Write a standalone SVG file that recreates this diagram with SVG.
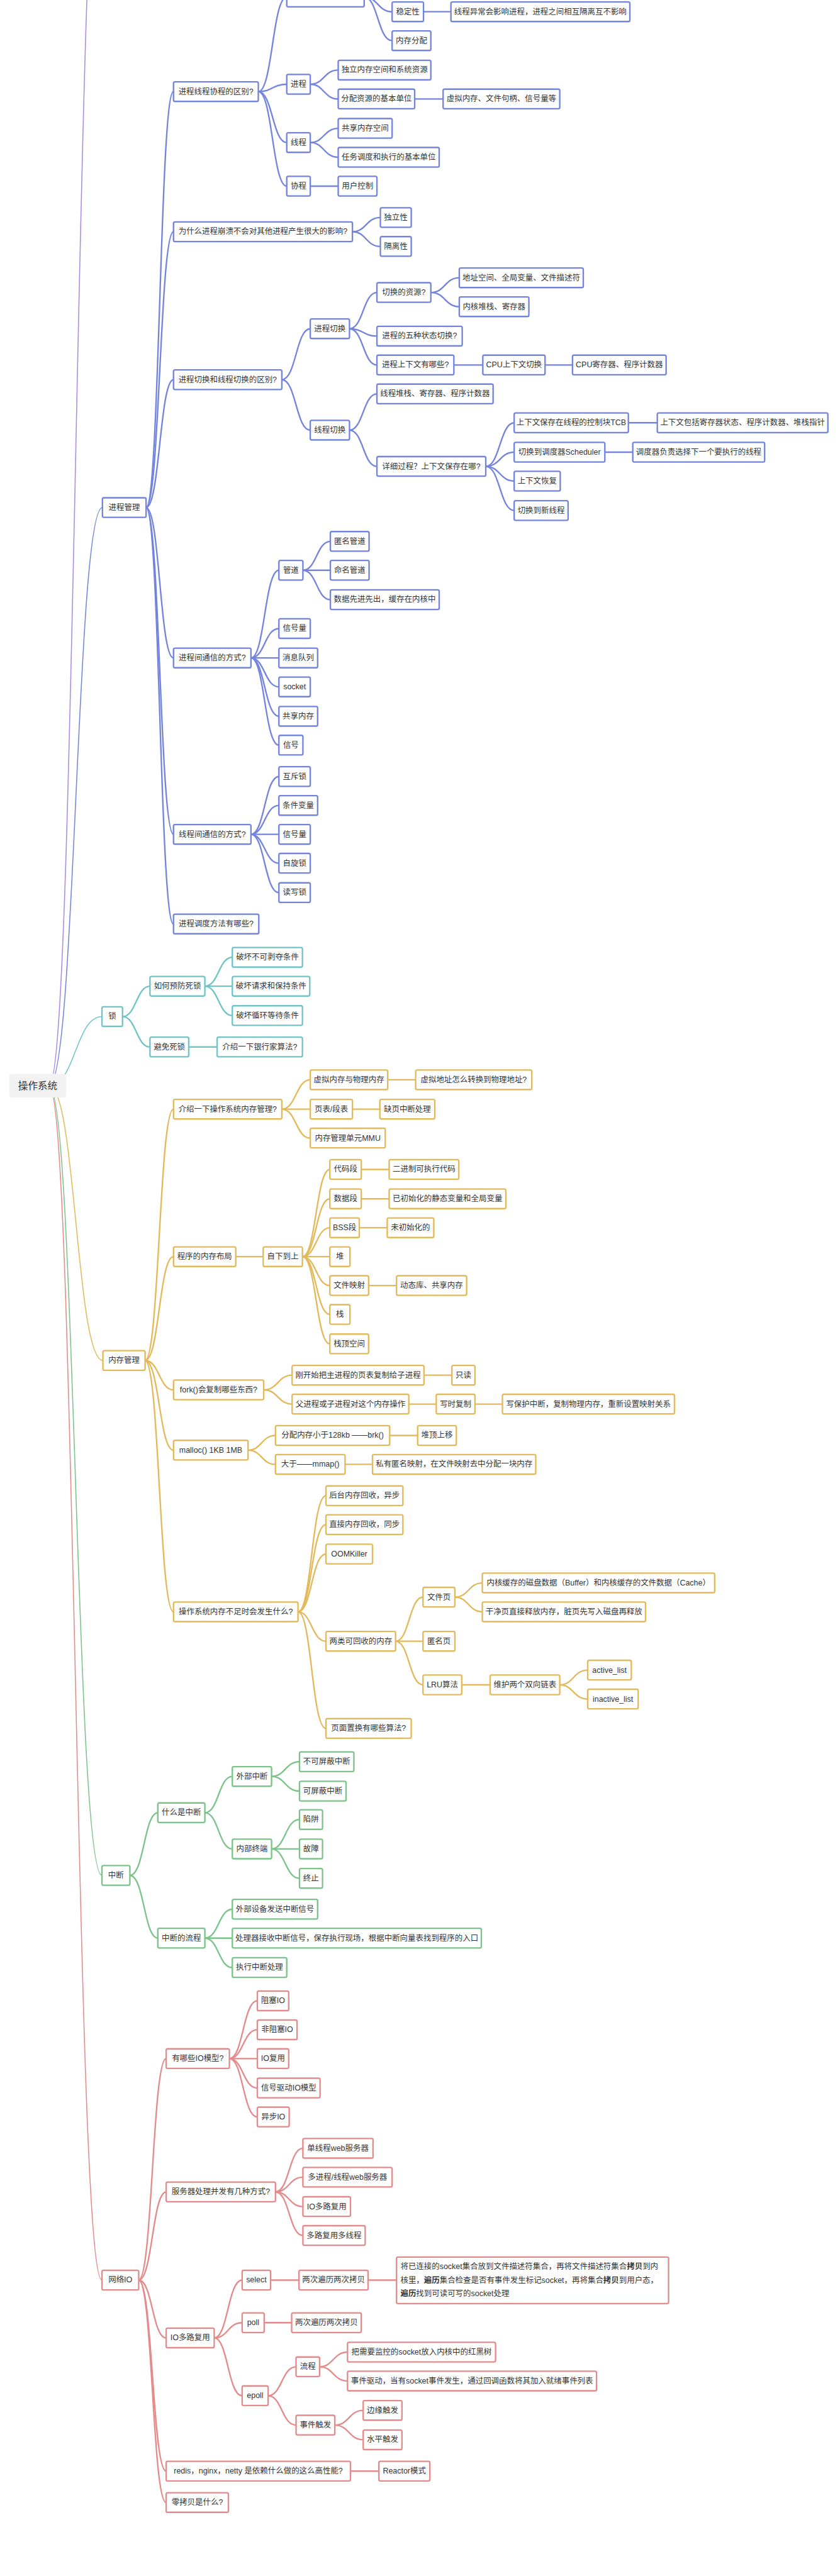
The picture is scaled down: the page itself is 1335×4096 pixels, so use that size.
<svg xmlns="http://www.w3.org/2000/svg" width="1335" height="4096" viewBox="0 0 1335 4096">
<style>
.lk path{fill:none;stroke-width:3;stroke-linecap:round}
.rt path{fill:none;stroke-width:2}
.n rect{fill:#fff;stroke-width:3}
.n text,.root text{font-family:"Liberation Sans","Noto Sans CJK SC",sans-serif;font-size:16px;fill:#333;stroke:none}
.n text{text-anchor:middle;dominant-baseline:central}
.n.desc text{text-anchor:start}
.B{stroke:#7384dd}.T{stroke:#70c4c6}.O{stroke:#e2b95b}.G{stroke:#7cc38a}.R{stroke:#e58a8a}.P{stroke:#a98ce0}
.bold{font-weight:bold}
</style>
<rect width="1335" height="4096" fill="#fff"/>
<g transform="scale(0.779)">
<g id="connectors">
<g class="rt">
<path class="P" d="M100 2216C155 2216 155 -400 209 -400"/>
<path class="B" d="M100 2216C155 2216 155 1036 209 1036"/>
<path class="T" d="M100 2216C154 2216 154 2075 208 2075"/>
<path class="O" d="M100 2216C155 2216 155 2777 210 2777"/>
<path class="G" d="M100 2216C154 2216 154 3828 208 3828"/>
<path class="R" d="M100 2216C154 2216 154 4654 208 4654"/>
</g>
<g class="lk B">
<path d="M298 1036C326 1036 326 187 354 187"/>
<path d="M298 1036C326 1036 326 473 354 473"/>
<path d="M298 1036C326 1036 326 775 354 775"/>
<path d="M298 1036C326 1036 326 1343 354 1343"/>
<path d="M298 1036C326 1036 326 1703 354 1703"/>
<path d="M298 1036C326 1036 326 1886 354 1886"/>
<path d="M527 187C556 187 556 -6 585 -6"/>
<path d="M527 187C556 187 556 172 585 172"/>
<path d="M527 187C556 187 556 291 585 291"/>
<path d="M527 187C556 187 556 380 585 380"/>
<path d="M743 -6C771 -6 771 24 800 24"/>
<path d="M743 -6C771 -6 771 83 800 83"/>
<path d="M864 24H920"/>
<path d="M633 172C661 172 661 143 690 143"/>
<path d="M633 172C661 172 661 202 690 202"/>
<path d="M846 202H904"/>
<path d="M633 291C661 291 661 262 690 262"/>
<path d="M633 291C661 291 661 321 690 321"/>
<path d="M633 380H690"/>
<path d="M719 473C747 473 747 444 776 444"/>
<path d="M719 473C747 473 747 503 776 503"/>
<path d="M575 775C604 775 604 671 633 671"/>
<path d="M575 775C604 775 604 878 633 878"/>
<path d="M713 671C741 671 741 597 769 597"/>
<path d="M713 671C741 671 741 686 769 686"/>
<path d="M713 671C741 671 741 745 769 745"/>
<path d="M879 597C908 597 908 567 937 567"/>
<path d="M879 597C908 597 908 626 937 626"/>
<path d="M926 745H985"/>
<path d="M1112 745H1168"/>
<path d="M713 878C741 878 741 804 769 804"/>
<path d="M713 878C741 878 741 952 769 952"/>
<path d="M991 952C1020 952 1020 863 1049 863"/>
<path d="M991 952C1020 952 1020 923 1049 923"/>
<path d="M991 952C1020 952 1020 982 1049 982"/>
<path d="M991 952C1020 952 1020 1042 1049 1042"/>
<path d="M1282 863H1341"/>
<path d="M1234 923H1291"/>
<path d="M512 1343C540 1343 540 1164 569 1164"/>
<path d="M512 1343C540 1343 540 1283 569 1283"/>
<path d="M512 1343H569"/>
<path d="M512 1343C540 1343 540 1402 569 1402"/>
<path d="M512 1343C540 1343 540 1462 569 1462"/>
<path d="M512 1343C540 1343 540 1521 569 1521"/>
<path d="M618 1164C646 1164 646 1105 674 1105"/>
<path d="M618 1164H674"/>
<path d="M618 1164C646 1164 646 1224 674 1224"/>
<path d="M512 1703C540 1703 540 1585 569 1585"/>
<path d="M512 1703C540 1703 540 1644 569 1644"/>
<path d="M512 1703H569"/>
<path d="M512 1703C540 1703 540 1762 569 1762"/>
<path d="M512 1703C540 1703 540 1822 569 1822"/>
</g>
<g class="lk T">
<path d="M250 2075C278 2075 278 2013 306 2013"/>
<path d="M250 2075C278 2075 278 2137 306 2137"/>
<path d="M418 2013C446 2013 446 1954 474 1954"/>
<path d="M418 2013H474"/>
<path d="M418 2013C446 2013 446 2073 474 2073"/>
<path d="M385 2137H443"/>
</g>
<g class="lk O">
<path d="M296 2777C325 2777 325 2264 354 2264"/>
<path d="M296 2777C325 2777 325 2565 354 2565"/>
<path d="M296 2777C325 2777 325 2837 354 2837"/>
<path d="M296 2777C325 2777 325 2960 354 2960"/>
<path d="M296 2777C325 2777 325 3290 354 3290"/>
<path d="M575 2264C604 2264 604 2204 633 2204"/>
<path d="M575 2264H633"/>
<path d="M575 2264C604 2264 604 2323 633 2323"/>
<path d="M791 2204H848"/>
<path d="M719 2264H775"/>
<path d="M481 2565H537"/>
<path d="M617 2565C645 2565 645 2387 673 2387"/>
<path d="M617 2565C645 2565 645 2447 673 2447"/>
<path d="M617 2565C645 2565 645 2506 673 2506"/>
<path d="M617 2565H673"/>
<path d="M617 2565C645 2565 645 2624 673 2624"/>
<path d="M617 2565C645 2565 645 2683 673 2683"/>
<path d="M617 2565C645 2565 645 2743 673 2743"/>
<path d="M737 2387H794"/>
<path d="M737 2447H794"/>
<path d="M733 2506H790"/>
<path d="M752 2624H809"/>
<path d="M538 2837C567 2837 567 2807 596 2807"/>
<path d="M538 2837C567 2837 567 2866 596 2866"/>
<path d="M865 2807H922"/>
<path d="M834 2866H890"/>
<path d="M969 2866H1025"/>
<path d="M506 2960C534 2960 534 2930 562 2930"/>
<path d="M506 2960C534 2960 534 2989 562 2989"/>
<path d="M795 2930H852"/>
<path d="M704 2989H760"/>
<path d="M608 3290C636 3290 636 3053 665 3053"/>
<path d="M608 3290C636 3290 636 3112 665 3112"/>
<path d="M608 3290C636 3290 636 3172 665 3172"/>
<path d="M608 3290C636 3290 636 3350 665 3350"/>
<path d="M608 3290C636 3290 636 3528 665 3528"/>
<path d="M807 3350C835 3350 835 3260 863 3260"/>
<path d="M807 3350H863"/>
<path d="M807 3350C835 3350 835 3439 863 3439"/>
<path d="M928 3260C956 3260 956 3231 984 3231"/>
<path d="M928 3260C956 3260 956 3290 984 3290"/>
<path d="M942 3439H1000"/>
<path d="M1142 3439C1170 3439 1170 3409 1199 3409"/>
<path d="M1142 3439C1170 3439 1170 3468 1199 3468"/>
</g>
<g class="lk G">
<path d="M265 3828C294 3828 294 3700 322 3700"/>
<path d="M265 3828C294 3828 294 3956 322 3956"/>
<path d="M418 3700C446 3700 446 3626 474 3626"/>
<path d="M418 3700C446 3700 446 3774 474 3774"/>
<path d="M554 3626C582 3626 582 3596 611 3596"/>
<path d="M554 3626C582 3626 582 3656 611 3656"/>
<path d="M554 3774C582 3774 582 3714 611 3714"/>
<path d="M554 3774H611"/>
<path d="M554 3774C582 3774 582 3834 611 3834"/>
<path d="M418 3956C446 3956 446 3897 474 3897"/>
<path d="M418 3956H474"/>
<path d="M418 3956C446 3956 446 4016 474 4016"/>
</g>
<g class="lk R">
<path d="M283 4654C311 4654 311 4202 339 4202"/>
<path d="M283 4654C311 4654 311 4474 339 4474"/>
<path d="M283 4654C311 4654 311 4772 339 4772"/>
<path d="M283 4654C311 4654 311 5044 339 5044"/>
<path d="M283 4654C311 4654 311 5108 339 5108"/>
<path d="M468 4202C496 4202 496 4084 525 4084"/>
<path d="M468 4202C496 4202 496 4143 525 4143"/>
<path d="M468 4202H525"/>
<path d="M468 4202C496 4202 496 4262 525 4262"/>
<path d="M468 4202C496 4202 496 4321 525 4321"/>
<path d="M562 4474C590 4474 590 4385 618 4385"/>
<path d="M562 4474C590 4474 590 4444 618 4444"/>
<path d="M562 4474C590 4474 590 4504 618 4504"/>
<path d="M562 4474C590 4474 590 4563 618 4563"/>
<path d="M437 4772C465 4772 465 4654 494 4654"/>
<path d="M437 4772C465 4772 465 4741 494 4741"/>
<path d="M437 4772C465 4772 465 4890 494 4890"/>
<path d="M552 4654H610"/>
<path d="M751 4654H809"/>
<path d="M539 4741H595"/>
<path d="M547 4890C575 4890 575 4831 604 4831"/>
<path d="M547 4890C575 4890 575 4950 604 4950"/>
<path d="M652 4831C680 4831 680 4801 709 4801"/>
<path d="M652 4831C680 4831 680 4860 709 4860"/>
<path d="M683 4950C712 4950 712 4920 741 4920"/>
<path d="M683 4950C712 4950 712 4980 741 4980"/>
<path d="M715 5044H773"/>
</g>
</g>

<g id="nodes">
<g id="root" class="root"><rect x="19" y="2192" width="116" height="48" rx="4" fill="#f2f2f2"/><text x="77" y="2216" style="font-size:20px" text-anchor="middle" dominant-baseline="central">操作系统</text></g>

<g id="b-partial" class="n B"><rect x="585" y="-26" width="158" height="40" rx="3"/></g>
<g id="b1" class="n B"><rect x="354" y="167" width="173" height="40" rx="3"/><text x="440.5" y="187">进程线程协程的区别?</text></g>
<g id="b2" class="n B"><rect x="585" y="152" width="48" height="40" rx="3"/><text x="609" y="172">进程</text></g>
<g id="b3" class="n B"><rect x="690" y="123" width="189" height="40" rx="3"/><text x="784.5" y="143">独立内存空间和系统资源</text></g>
<g id="b4" class="n B"><rect x="690" y="182" width="156" height="40" rx="3"/><text x="768" y="202">分配资源的基本单位</text></g>
<g id="b5" class="n B"><rect x="904" y="182" width="238" height="40" rx="3"/><text x="1023" y="202">虚拟内存、文件句柄、信号量等</text></g>
<g id="b6" class="n B"><rect x="585" y="271" width="48" height="40" rx="3"/><text x="609" y="291">线程</text></g>
<g id="b7" class="n B"><rect x="690" y="242" width="110" height="40" rx="3"/><text x="745" y="262">共享内存空间</text></g>
<g id="b8" class="n B"><rect x="690" y="301" width="206" height="40" rx="3"/><text x="793" y="321">任务调度和执行的基本单位</text></g>
<g id="b9" class="n B"><rect x="585" y="360" width="48" height="40" rx="3"/><text x="609" y="380">协程</text></g>
<g id="b10" class="n B"><rect x="690" y="360" width="79" height="40" rx="3"/><text x="729.5" y="380">用户控制</text></g>
<g id="b11" class="n B"><rect x="800" y="4" width="64" height="40" rx="3"/><text x="832" y="24">稳定性</text></g>
<g id="b12" class="n B"><rect x="920" y="4" width="365" height="40" rx="3"/><text x="1102.5" y="24">线程异常会影响进程，进程之间相互隔离互不影响</text></g>
<g id="b13" class="n B"><rect x="800" y="63" width="79" height="40" rx="3"/><text x="839.5" y="83">内存分配</text></g>
<g id="b14" class="n B"><rect x="354" y="453" width="365" height="40" rx="3"/><text x="536.5" y="473">为什么进程崩溃不会对其他进程产生很大的影响?</text></g>
<g id="b15" class="n B"><rect x="776" y="424" width="63" height="40" rx="3"/><text x="807.5" y="444">独立性</text></g>
<g id="b16" class="n B"><rect x="776" y="483" width="63" height="40" rx="3"/><text x="807.5" y="503">隔离性</text></g>
<g id="b17" class="n B"><rect x="354" y="755" width="221" height="40" rx="3"/><text x="464.5" y="775">进程切换和线程切换的区别?</text></g>
<g id="b18" class="n B"><rect x="633" y="651" width="80" height="40" rx="3"/><text x="673" y="671">进程切换</text></g>
<g id="b19" class="n B"><rect x="769" y="577" width="110" height="40" rx="3"/><text x="824" y="597">切换的资源?</text></g>
<g id="b20" class="n B"><rect x="937" y="547" width="253" height="40" rx="3"/><text x="1063.5" y="567">地址空间、全局变量、文件描述符</text></g>
<g id="b21" class="n B"><rect x="937" y="606" width="142" height="40" rx="3"/><text x="1008" y="626">内核堆栈、寄存器</text></g>
<g id="b22" class="n B"><rect x="769" y="666" width="174" height="40" rx="3"/><text x="856" y="686">进程的五种状态切换?</text></g>
<g id="b23" class="n B"><rect x="769" y="725" width="157" height="40" rx="3"/><text x="847.5" y="745">进程上下文有哪些?</text></g>
<g id="b24" class="n B"><rect x="985" y="725" width="127" height="40" rx="3"/><text x="1048.5" y="745">CPU上下文切换</text></g>
<g id="b25" class="n B"><rect x="1168" y="725" width="191" height="40" rx="3"/><text x="1263.5" y="745">CPU寄存器、程序计数器</text></g>
<g id="b26" class="n B"><rect x="633" y="858" width="80" height="40" rx="3"/><text x="673" y="878">线程切换</text></g>
<g id="b27" class="n B"><rect x="769" y="784" width="237" height="40" rx="3"/><text x="887.5" y="804">线程堆栈、寄存器、程序计数器</text></g>
<g id="b28" class="n B"><rect x="769" y="932" width="222" height="40" rx="3"/><text x="880" y="952">详细过程？上下文保存在哪?</text></g>
<g id="b29" class="n B"><rect x="1049" y="843" width="233" height="40" rx="3"/><text x="1165.5" y="863">上下文保存在线程的控制块TCB</text></g>
<g id="b30" class="n B"><rect x="1341" y="843" width="348" height="40" rx="3"/><text x="1515" y="863">上下文包括寄存器状态、程序计数器、堆栈指针</text></g>
<g id="b31" class="n B"><rect x="1049" y="903" width="185" height="40" rx="3"/><text x="1141.5" y="923">切换到调度器Scheduler</text></g>
<g id="b32" class="n B"><rect x="1291" y="903" width="269" height="40" rx="3"/><text x="1425.5" y="923">调度器负责选择下一个要执行的线程</text></g>
<g id="b33" class="n B"><rect x="1049" y="962" width="94" height="40" rx="3"/><text x="1096" y="982">上下文恢复</text></g>
<g id="b34" class="n B"><rect x="1049" y="1022" width="110" height="40" rx="3"/><text x="1104" y="1042">切换到新线程</text></g>
<g id="b35" class="n B"><rect x="209" y="1016" width="89" height="40" rx="3"/><text x="253.5" y="1036">进程管理</text></g>
<g id="b36" class="n B"><rect x="354" y="1323" width="158" height="40" rx="3"/><text x="433" y="1343">进程间通信的方式?</text></g>
<g id="b37" class="n B"><rect x="569" y="1144" width="49" height="40" rx="3"/><text x="593.5" y="1164">管道</text></g>
<g id="b38" class="n B"><rect x="674" y="1085" width="79" height="40" rx="3"/><text x="713.5" y="1105">匿名管道</text></g>
<g id="b39" class="n B"><rect x="674" y="1144" width="79" height="40" rx="3"/><text x="713.5" y="1164">命名管道</text></g>
<g id="b40" class="n B"><rect x="674" y="1204" width="222" height="40" rx="3"/><text x="785" y="1224">数据先进先出，缓存在内核中</text></g>
<g id="b41" class="n B"><rect x="569" y="1263" width="64" height="40" rx="3"/><text x="601" y="1283">信号量</text></g>
<g id="b42" class="n B"><rect x="569" y="1323" width="79" height="40" rx="3"/><text x="608.5" y="1343">消息队列</text></g>
<g id="b43" class="n B"><rect x="569" y="1382" width="64" height="40" rx="3"/><text x="601" y="1402">socket</text></g>
<g id="b44" class="n B"><rect x="569" y="1442" width="79" height="40" rx="3"/><text x="608.5" y="1462">共享内存</text></g>
<g id="b45" class="n B"><rect x="569" y="1501" width="49" height="40" rx="3"/><text x="593.5" y="1521">信号</text></g>
<g id="b46" class="n B"><rect x="354" y="1683" width="158" height="40" rx="3"/><text x="433" y="1703">线程间通信的方式?</text></g>
<g id="b47" class="n B"><rect x="569" y="1565" width="64" height="40" rx="3"/><text x="601" y="1585">互斥锁</text></g>
<g id="b48" class="n B"><rect x="569" y="1624" width="79" height="40" rx="3"/><text x="608.5" y="1644">条件变量</text></g>
<g id="b49" class="n B"><rect x="569" y="1683" width="64" height="40" rx="3"/><text x="601" y="1703">信号量</text></g>
<g id="b50" class="n B"><rect x="569" y="1742" width="64" height="40" rx="3"/><text x="601" y="1762">自旋锁</text></g>
<g id="b51" class="n B"><rect x="569" y="1802" width="64" height="40" rx="3"/><text x="601" y="1822">读写锁</text></g>
<g id="b52" class="n B"><rect x="354" y="1866" width="174" height="40" rx="3"/><text x="441" y="1886">进程调度方法有哪些?</text></g>

<g id="t1" class="n T"><rect x="208" y="2055" width="42" height="40" rx="3"/><text x="229" y="2075">锁</text></g>
<g id="t2" class="n T"><rect x="306" y="1993" width="112" height="40" rx="3"/><text x="362" y="2013">如何预防死锁</text></g>
<g id="t3" class="n T"><rect x="474" y="1934" width="143" height="40" rx="3"/><text x="545.5" y="1954">破坏不可剥夺条件</text></g>
<g id="t4" class="n T"><rect x="474" y="1993" width="158" height="40" rx="3"/><text x="553" y="2013">破坏请求和保持条件</text></g>
<g id="t5" class="n T"><rect x="474" y="2053" width="143" height="40" rx="3"/><text x="545.5" y="2073">破坏循环等待条件</text></g>
<g id="t6" class="n T"><rect x="306" y="2117" width="79" height="40" rx="3"/><text x="345.5" y="2137">避免死锁</text></g>
<g id="t7" class="n T"><rect x="443" y="2117" width="174" height="40" rx="3"/><text x="530" y="2137">介绍一下银行家算法?</text></g>

<g id="o1" class="n O"><rect x="210" y="2757" width="86" height="40" rx="3"/><text x="253" y="2777">内存管理</text></g>
<g id="o2" class="n O"><rect x="354" y="2244" width="221" height="40" rx="3"/><text x="464.5" y="2264">介绍一下操作系统内存管理?</text></g>
<g id="o3" class="n O"><rect x="633" y="2184" width="158" height="40" rx="3"/><text x="712" y="2204">虚拟内存与物理内存</text></g>
<g id="o4" class="n O"><rect x="848" y="2184" width="237" height="40" rx="3"/><text x="966.5" y="2204">虚拟地址怎么转换到物理地址?</text></g>
<g id="o5" class="n O"><rect x="633" y="2244" width="86" height="40" rx="3"/><text x="676" y="2264">页表/段表</text></g>
<g id="o6" class="n O"><rect x="775" y="2244" width="112" height="40" rx="3"/><text x="831" y="2264">缺页中断处理</text></g>
<g id="o7" class="n O"><rect x="633" y="2303" width="153" height="40" rx="3"/><text x="709.5" y="2323">内存管理单元MMU</text></g>
<g id="o8" class="n O"><rect x="354" y="2545" width="127" height="40" rx="3"/><text x="417.5" y="2565">程序的内存布局</text></g>
<g id="o9" class="n O"><rect x="537" y="2545" width="80" height="40" rx="3"/><text x="577" y="2565">自下到上</text></g>
<g id="o10" class="n O"><rect x="673" y="2367" width="64" height="40" rx="3"/><text x="705" y="2387">代码段</text></g>
<g id="o11" class="n O"><rect x="794" y="2367" width="142" height="40" rx="3"/><text x="865" y="2387">二进制可执行代码</text></g>
<g id="o12" class="n O"><rect x="673" y="2427" width="64" height="40" rx="3"/><text x="705" y="2447">数据段</text></g>
<g id="o13" class="n O"><rect x="794" y="2427" width="238" height="40" rx="3"/><text x="913" y="2447">已初始化的静态变量和全局变量</text></g>
<g id="o14" class="n O"><rect x="673" y="2486" width="60" height="40" rx="3"/><text x="703" y="2506">BSS段</text></g>
<g id="o15" class="n O"><rect x="790" y="2486" width="95" height="40" rx="3"/><text x="837.5" y="2506">未初始化的</text></g>
<g id="o16" class="n O"><rect x="673" y="2545" width="41" height="40" rx="3"/><text x="693.5" y="2565">堆</text></g>
<g id="o17" class="n O"><rect x="673" y="2604" width="79" height="40" rx="3"/><text x="712.5" y="2624">文件映射</text></g>
<g id="o18" class="n O"><rect x="809" y="2604" width="143" height="40" rx="3"/><text x="880.5" y="2624">动态库、共享内存</text></g>
<g id="o19" class="n O"><rect x="673" y="2663" width="41" height="40" rx="3"/><text x="693.5" y="2683">栈</text></g>
<g id="o20" class="n O"><rect x="673" y="2723" width="79" height="40" rx="3"/><text x="712.5" y="2743">栈顶空间</text></g>
<g id="o21" class="n O"><rect x="354" y="2817" width="184" height="40" rx="3"/><text x="446" y="2837">fork()会复制哪些东西?</text></g>
<g id="o22" class="n O"><rect x="596" y="2787" width="269" height="40" rx="3"/><text x="730.5" y="2807">刚开始把主进程的页表复制给子进程</text></g>
<g id="o23" class="n O"><rect x="922" y="2787" width="47" height="40" rx="3"/><text x="945.5" y="2807">只读</text></g>
<g id="o24" class="n O"><rect x="596" y="2846" width="238" height="40" rx="3"/><text x="715" y="2866">父进程或子进程对这个内存操作</text></g>
<g id="o25" class="n O"><rect x="890" y="2846" width="79" height="40" rx="3"/><text x="929.5" y="2866">写时复制</text></g>
<g id="o26" class="n O"><rect x="1025" y="2846" width="351" height="40" rx="3"/><text x="1200.5" y="2866">写保护中断，复制物理内存，重新设置映射关系</text></g>
<g id="o27" class="n O"><rect x="354" y="2940" width="152" height="40" rx="3"/><text x="430" y="2960">malloc() 1KB 1MB</text></g>
<g id="o28" class="n O"><rect x="562" y="2910" width="233" height="40" rx="3"/><text x="678.5" y="2930">分配内存小于128kb ——brk()</text></g>
<g id="o29" class="n O"><rect x="852" y="2910" width="79" height="40" rx="3"/><text x="891.5" y="2930">堆顶上移</text></g>
<g id="o30" class="n O"><rect x="562" y="2969" width="142" height="40" rx="3"/><text x="633" y="2989">大于——mmap()</text></g>
<g id="o31" class="n O"><rect x="760" y="2969" width="333" height="40" rx="3"/><text x="926.5" y="2989">私有匿名映射，在文件映射去中分配一块内存</text></g>
<g id="o32" class="n O"><rect x="665" y="3033" width="157" height="40" rx="3"/><text x="743.5" y="3053">后台内存回收，异步</text></g>
<g id="o33" class="n O"><rect x="665" y="3092" width="157" height="40" rx="3"/><text x="743.5" y="3112">直接内存回收，同步</text></g>
<g id="o34" class="n O"><rect x="665" y="3152" width="95" height="40" rx="3"/><text x="712.5" y="3172">OOMKiller</text></g>
<g id="o35" class="n O"><rect x="984" y="3211" width="474" height="40" rx="3"/><text x="1221" y="3231">内核缓存的磁盘数据（Buffer）和内核缓存的文件数据（Cache）</text></g>
<g id="o36" class="n O"><rect x="354" y="3270" width="254" height="40" rx="3"/><text x="481" y="3290">操作系统内存不足时会发生什么?</text></g>
<g id="o37" class="n O"><rect x="863" y="3240" width="65" height="40" rx="3"/><text x="895.5" y="3260">文件页</text></g>
<g id="o38" class="n O"><rect x="984" y="3270" width="333" height="40" rx="3"/><text x="1150.5" y="3290">干净页直接释放内存，脏页先写入磁盘再释放</text></g>
<g id="o39" class="n O"><rect x="665" y="3330" width="142" height="40" rx="3"/><text x="736" y="3350">两类可回收的内存</text></g>
<g id="o40" class="n O"><rect x="863" y="3330" width="65" height="40" rx="3"/><text x="895.5" y="3350">匿名页</text></g>
<g id="o41" class="n O"><rect x="863" y="3419" width="79" height="40" rx="3"/><text x="902.5" y="3439">LRU算法</text></g>
<g id="o42" class="n O"><rect x="1000" y="3419" width="142" height="40" rx="3"/><text x="1071" y="3439">维护两个双向链表</text></g>
<g id="o43" class="n O"><rect x="1199" y="3389" width="89" height="40" rx="3"/><text x="1243.5" y="3409">active_list</text></g>
<g id="o44" class="n O"><rect x="1199" y="3448" width="103" height="40" rx="3"/><text x="1250.5" y="3468">inactive_list</text></g>
<g id="o45" class="n O"><rect x="665" y="3508" width="174" height="40" rx="3"/><text x="752" y="3528">页面置换有哪些算法?</text></g>

<g id="g1" class="n G"><rect x="208" y="3808" width="57" height="40" rx="3"/><text x="236.5" y="3828">中断</text></g>
<g id="g2" class="n G"><rect x="322" y="3680" width="96" height="40" rx="3"/><text x="370" y="3700">什么是中断</text></g>
<g id="g3" class="n G"><rect x="474" y="3606" width="80" height="40" rx="3"/><text x="514" y="3626">外部中断</text></g>
<g id="g4" class="n G"><rect x="611" y="3576" width="111" height="40" rx="3"/><text x="666.5" y="3596">不可屏蔽中断</text></g>
<g id="g5" class="n G"><rect x="611" y="3636" width="95" height="40" rx="3"/><text x="658.5" y="3656">可屏蔽中断</text></g>
<g id="g6" class="n G"><rect x="474" y="3754" width="80" height="40" rx="3"/><text x="514" y="3774">内部终端</text></g>
<g id="g7" class="n G"><rect x="611" y="3694" width="47" height="40" rx="3"/><text x="634.5" y="3714">陷阱</text></g>
<g id="g8" class="n G"><rect x="611" y="3754" width="47" height="40" rx="3"/><text x="634.5" y="3774">故障</text></g>
<g id="g9" class="n G"><rect x="611" y="3814" width="47" height="40" rx="3"/><text x="634.5" y="3834">终止</text></g>
<g id="g10" class="n G"><rect x="322" y="3936" width="96" height="40" rx="3"/><text x="370" y="3956">中断的流程</text></g>
<g id="g11" class="n G"><rect x="474" y="3877" width="174" height="40" rx="3"/><text x="561" y="3897">外部设备发送中断信号</text></g>
<g id="g12" class="n G"><rect x="474" y="3936" width="508" height="40" rx="3"/><text x="728" y="3956">处理器接收中断信号，保存执行现场，根据中断向量表找到程序的入口</text></g>
<g id="g13" class="n G"><rect x="474" y="3996" width="111" height="40" rx="3"/><text x="529.5" y="4016">执行中断处理</text></g>

<g id="r1" class="n R"><rect x="208" y="4634" width="75" height="40" rx="3"/><text x="245.5" y="4654">网络IO</text></g>
<g id="r2" class="n R"><rect x="339" y="4182" width="129" height="40" rx="3"/><text x="403.5" y="4202">有哪些IO模型?</text></g>
<g id="r3" class="n R"><rect x="525" y="4064" width="64" height="40" rx="3"/><text x="557" y="4084">阻塞IO</text></g>
<g id="r4" class="n R"><rect x="525" y="4123" width="81" height="40" rx="3"/><text x="565.5" y="4143">非阻塞IO</text></g>
<g id="r5" class="n R"><rect x="525" y="4182" width="64" height="40" rx="3"/><text x="557" y="4202">IO复用</text></g>
<g id="r6" class="n R"><rect x="525" y="4242" width="128" height="40" rx="3"/><text x="589" y="4262">信号驱动IO模型</text></g>
<g id="r7" class="n R"><rect x="525" y="4301" width="65" height="40" rx="3"/><text x="557.5" y="4321">异步IO</text></g>
<g id="r8" class="n R"><rect x="339" y="4454" width="223" height="40" rx="3"/><text x="450.5" y="4474">服务器处理并发有几种方式?</text></g>
<g id="r9" class="n R"><rect x="618" y="4365" width="143" height="40" rx="3"/><text x="689.5" y="4385">单线程web服务器</text></g>
<g id="r10" class="n R"><rect x="618" y="4424" width="182" height="40" rx="3"/><text x="709" y="4444">多进程/线程web服务器</text></g>
<g id="r11" class="n R"><rect x="618" y="4484" width="97" height="40" rx="3"/><text x="666.5" y="4504">IO多路复用</text></g>
<g id="r12" class="n R"><rect x="618" y="4543" width="127" height="40" rx="3"/><text x="681.5" y="4563">多路复用多线程</text></g>
<g id="r13" class="n R"><rect x="339" y="4752" width="98" height="40" rx="3"/><text x="388" y="4772">IO多路复用</text></g>
<g id="r14" class="n R"><rect x="494" y="4634" width="58" height="40" rx="3"/><text x="523" y="4654">select</text></g>
<g id="r15" class="n R"><rect x="610" y="4634" width="141" height="40" rx="3"/><text x="680.5" y="4654">两次遍历两次拷贝</text></g>
<g id="r16" class="n R desc"><rect x="809" y="4607" width="555" height="95" rx="3"/>
<text x="817" y="4627">将已连接的socket集合放到文件描述符集合，再将文件描述符集合<tspan class="bold">拷贝</tspan>到内</text>
<text x="817" y="4655">核里，<tspan class="bold">遍历</tspan>集合检查是否有事件发生标记socket，再将集合<tspan class="bold">拷贝</tspan>到用户态，</text>
<text x="817" y="4682"><tspan class="bold">遍历</tspan>找到可读可写的socket处理</text></g>
<g id="r17" class="n R"><rect x="494" y="4721" width="45" height="40" rx="3"/><text x="516.5" y="4741">poll</text></g>
<g id="r18" class="n R"><rect x="595" y="4721" width="142" height="40" rx="3"/><text x="666" y="4741">两次遍历两次拷贝</text></g>
<g id="r19" class="n R"><rect x="494" y="4870" width="53" height="40" rx="3"/><text x="520.5" y="4890">epoll</text></g>
<g id="r20" class="n R"><rect x="604" y="4811" width="48" height="40" rx="3"/><text x="628" y="4831">流程</text></g>
<g id="r21" class="n R"><rect x="709" y="4781" width="302" height="40" rx="3"/><text x="860" y="4801">把需要监控的socket放入内核中的红黑树</text></g>
<g id="r22" class="n R"><rect x="709" y="4840" width="508" height="40" rx="3"/><text x="963" y="4860">事件驱动，当有socket事件发生，通过回调函数将其加入就绪事件列表</text></g>
<g id="r23" class="n R"><rect x="604" y="4930" width="79" height="40" rx="3"/><text x="643.5" y="4950">事件触发</text></g>
<g id="r24" class="n R"><rect x="741" y="4900" width="79" height="40" rx="3"/><text x="780.5" y="4920">边缘触发</text></g>
<g id="r25" class="n R"><rect x="741" y="4960" width="79" height="40" rx="3"/><text x="780.5" y="4980">水平触发</text></g>
<g id="r26" class="n R"><rect x="339" y="5024" width="376" height="40" rx="3"/><text x="527" y="5044">redis，nginx，netty 是依赖什么做的这么高性能?</text></g>
<g id="r27" class="n R"><rect x="773" y="5024" width="104" height="40" rx="3"/><text x="825" y="5044">Reactor模式</text></g>
<g id="r28" class="n R"><rect x="339" y="5088" width="127" height="40" rx="3"/><text x="402.5" y="5108">零拷贝是什么?</text></g>
</g>
</g>
</svg>
